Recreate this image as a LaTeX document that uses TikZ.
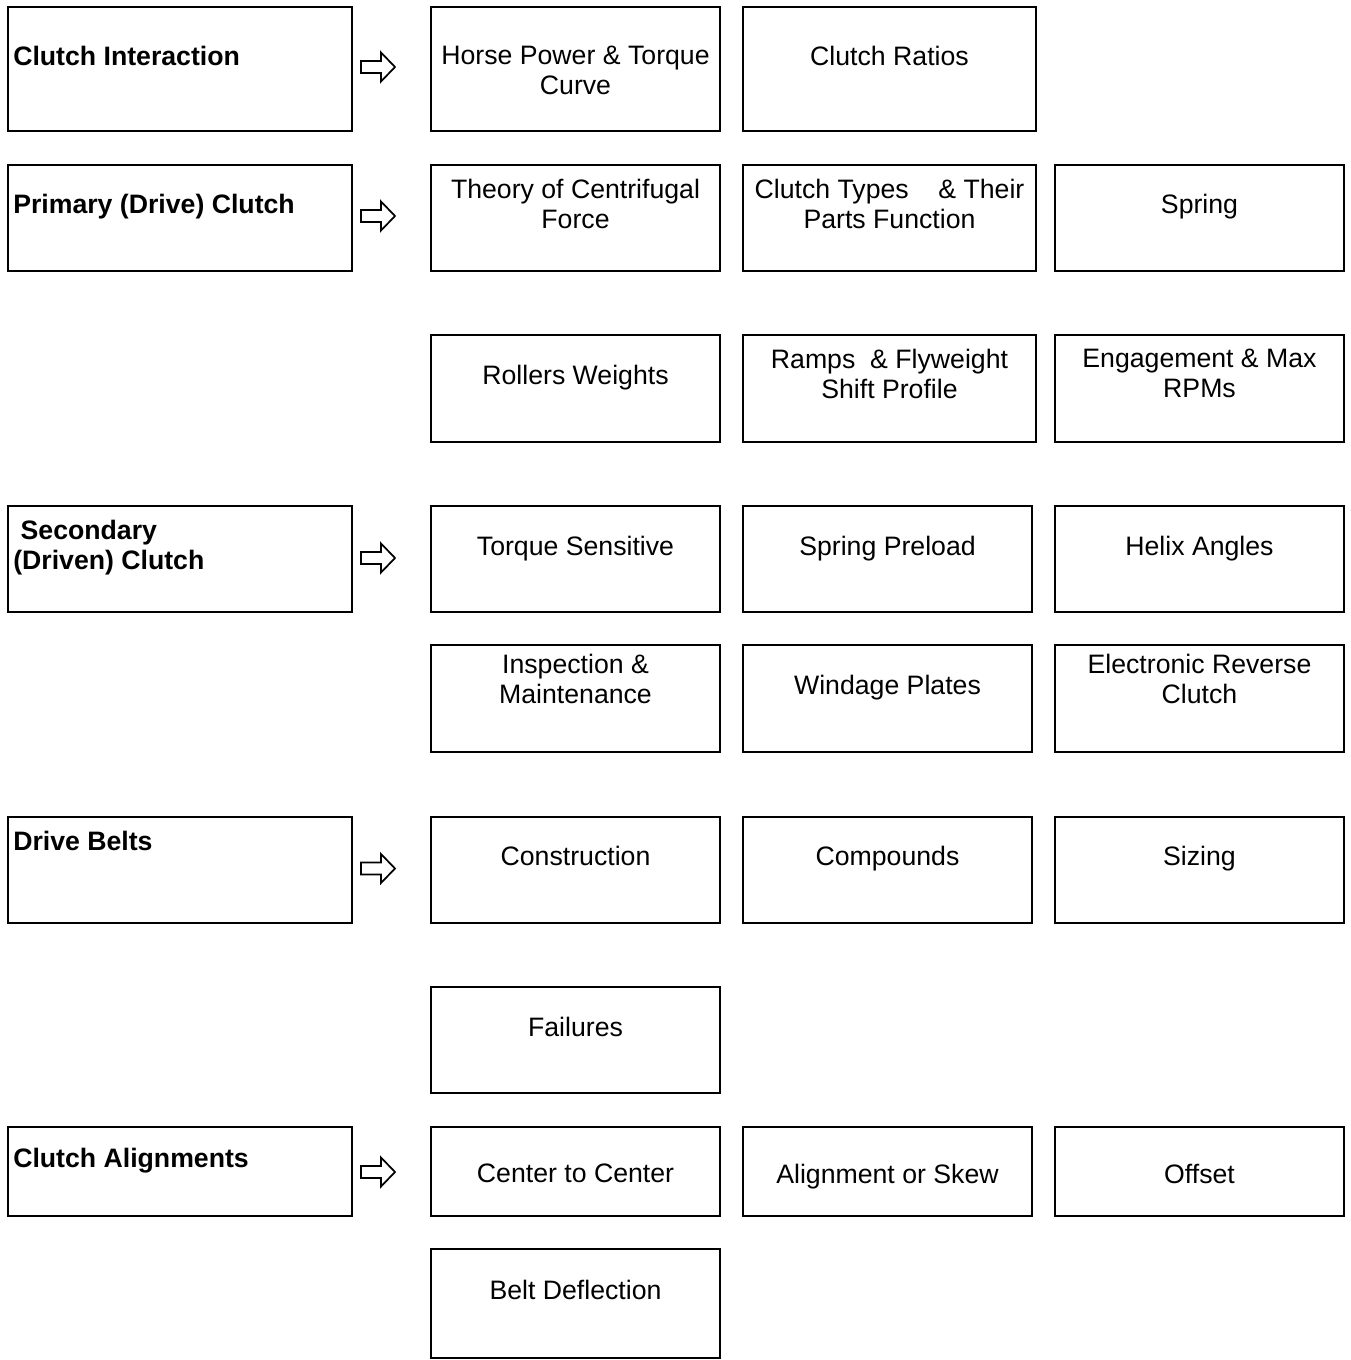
\documentclass[tikz,border=0pt]{standalone}
\usepackage{fontspec}
\setmainfont{Liberation Sans}
\begin{document}
\begin{tikzpicture}[x=0.75pt,y=-0.75pt,
  box/.style={draw=black,line width=1.5pt,rectangle,inner sep=0pt},
  txt/.style={inner sep=0pt,anchor=north,align=center,font=\fontsize{20}{22.5}\selectfont},
  ltxt/.style={inner sep=0pt,anchor=north west,align=left,font=\fontsize{20}{22.5}\selectfont\bfseries},
  harrow/.style={draw=black,line width=1.3pt,line join=miter,fill=white}]
\useasboundingbox (0,0) rectangle (1350,1360);
\newcommand{\bx}[5]{\node[box,minimum width={(#4-#2)*0.75pt},minimum height={(#5-#3)*0.75pt}] (#1) at ({(#2+#4)/2},{(#3+#5)/2}) {};}
\newcommand{\arr}[2]{\coordinate (#1) at (361,#2);
  \draw[harrow] (#1) ++(0,-6) -- ++(20,0) -- ++(0,-8.5) -- ++(14,14.5) -- ++(-14,14.5) -- ++(0,-8.5) -- ++(-20,0) -- cycle;}
% left column
\bx{L1}{8}{7}{352}{131}
\bx{L2}{8}{165}{352}{271}
\bx{L4}{8}{506}{352}{612}
\bx{L6}{8}{817}{352}{923}
\bx{L8}{8}{1127}{352}{1216}
\node[ltxt] (tL1) at (13,45.5) {Clutch Interaction};
\node[ltxt] (tL2) at (13,193.5) {Primary (Drive) Clutch};
\node[ltxt] (tL4) at (13,519.5) {\hspace*{0.278em}Secondary\\(Driven) Clutch};
\node[ltxt] (tL6) at (13,830.5) {Drive Belts};
\node[ltxt] (tL8) at (13,1147.5) {Clutch Alignments};
% arrows
\arr{A1}{67}
\arr{A2}{216}
\arr{A4}{558}
\arr{A6}{868.5}
\arr{A8}{1172}
% row 1
\bx{B11}{431}{7}{720}{131}
\bx{B12}{743}{7}{1036}{131}
\node[txt] (t11) at (B11.north |- 0,45.5) {Horse Power \& Torque\\Curve};
\node[txt] (t12) at (B12.north |- 0,45.5) {Clutch Ratios};
% row 2
\bx{B21}{431}{165}{720}{271}
\bx{B22}{743}{165}{1036}{271}
\bx{B23}{1055}{165}{1344}{271}
\node[txt] (t21) at (B21.north |- 0,178.5) {Theory of Centrifugal\\Force};
\node[txt] (t22) at (B22.north |- 0,178.5) {Clutch Types\ \ \ \ \& Their\\Parts Function};
\node[txt] (t23) at (B23.north |- 0,193.5) {Spring};
% row 3
\bx{B31}{431}{335}{720}{442}
\bx{B32}{743}{335}{1036}{442}
\bx{B33}{1055}{335}{1344}{442}
\node[txt] (t31) at (B31.north |- 0,364.5) {Rollers Weights};
\node[txt] (t32) at (B32.north |- 0,348.5) {Ramps\ \ \& Flyweight\\Shift Profile};
\node[txt] (t33) at (B33.north |- 0,348.5) {Engagement \& Max\\RPMs};
% row 4
\bx{B41}{431}{506}{720}{612}
\bx{B42}{743}{506}{1032}{612}
\bx{B43}{1055}{506}{1344}{612}
\node[txt] (t41) at (B41.north |- 0,535.5) {Torque Sensitive};
\node[txt] (t42) at (B42.north |- 0,535.5) {Spring Preload};
\node[txt] (t43) at (B43.north |- 0,535.5) {Helix Angles};
% row 5
\bx{B51}{431}{645}{720}{752}
\bx{B52}{743}{645}{1032}{752}
\bx{B53}{1055}{645}{1344}{752}
\node[txt] (t51) at (B51.north |- 0,653.5) {Inspection \&\\Maintenance};
\node[txt] (t52) at (B52.north |- 0,674.5) {Windage Plates};
\node[txt] (t53) at (B53.north |- 0,653.5) {Electronic Reverse\\Clutch};
% row 6
\bx{B61}{431}{817}{720}{923}
\bx{B62}{743}{817}{1032}{923}
\bx{B63}{1055}{817}{1344}{923}
\node[txt] (t61) at (B61.north |- 0,845.5) {Construction};
\node[txt] (t62) at (B62.north |- 0,845.5) {Compounds};
\node[txt] (t63) at (B63.north |- 0,845.5) {Sizing};
% row 7
\bx{B71}{431}{987}{720}{1093}
\node[txt] (t71) at (B71.north |- 0,1016.5) {Failures};
% row 8
\bx{B81}{431}{1127}{720}{1216}
\bx{B82}{743}{1127}{1032}{1216}
\bx{B83}{1055}{1127}{1344}{1216}
\node[txt] (t81) at (B81.north |- 0,1163.5) {Center to Center};
\node[txt] (t82) at (B82.north |- 0,1163.5) {Alignment or Skew};
\node[txt] (t83) at (B83.north |- 0,1163.5) {Offset};
% row 9
\bx{B91}{431}{1249}{720}{1358}
\node[txt] (t91) at (B91.north |- 0,1279.5) {Belt Deflection};
\end{tikzpicture}
\end{document}
